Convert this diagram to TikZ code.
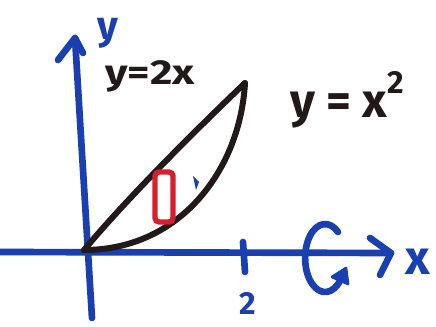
\documentclass[tikz,border=0pt]{standalone}
\usepackage{fontspec}
\setmainfont{Fira Sans}
\usepackage{graphicx}
\usetikzlibrary{arrows.meta}
\definecolor{pen}{HTML}{1A3FB0}
\definecolor{ink}{HTML}{221A1A}
\definecolor{redpen}{HTML}{D81E2C}
\begin{document}
\begin{tikzpicture}[x=0.75pt,y=-0.75pt,
  axis/.style={draw=pen,line width=5pt,line cap=round,line join=round},
  curve/.style={draw=ink,line width=4.5pt,line cap=round},
  lbl/.style={inner sep=0pt,font=\bfseries}]
\useasboundingbox (0,0) rectangle (436,327);
% axes
\coordinate (O) at (84,250);
\coordinate (ytop) at (75,38);
\coordinate (ybot) at (92,318);
\coordinate (yl) at (58,60);
\coordinate (yr) at (83,53);
\coordinate (xl) at (0,252);
\coordinate (xr) at (391,253);
\coordinate (xu) at (370,238);
\coordinate (xd) at (380,275);
\draw[axis] (ybot) -- (ytop);
\draw[axis] (yl) -- (ytop) -- (yr);
\draw[axis] (xl) -- (xr);
\draw[axis] (xu) -- (xr) -- (xd);
% tick
\coordinate (t1) at (243,242);
\coordinate (t2) at (245,272);
\draw[axis] (t1) -- (t2);
% curves
\coordinate (P) at (245,83);
\draw[curve] (O) .. controls (130,195) and (200,126) .. (P);
\draw[curve] (O) .. controls (180,250) and (240,170) .. (P);
% red rectangle
\draw[draw=redpen,line width=4pt,rounded corners=3pt] (155,172) rectangle (173,222);
% blue mark
\fill[pen] (193,176) -- (199,182) -- (196,190) -- cycle;
% rotation arrow
\coordinate (rs) at (338,232);
\coordinate (rtip) at (346,268);
\coordinate (rb1) at (348,284);
\coordinate (rb2) at (332,277);
\draw[axis] (rs) arc[start angle=-50, end angle=-320, x radius=20, y radius=34];
\fill[pen,draw=pen,line width=2pt,line join=round] (rtip) -- (rb1) -- (rb2) -- cycle;
% labels
\node[lbl,text=pen,font=\bfseries\fontsize{30}{30}\selectfont] (ylab) at (108,33) {y};
\node[lbl,text=ink,font=\bfseries\fontsize{26}{26}\selectfont] (l1) at (150,76) {\scalebox{1.25}[1]{y=2x}};
\node[lbl,text=ink,font=\bfseries\fontsize{36}{36}\selectfont] (l2) at (347,100) {y = x\raisebox{0.5em}{\fontsize{24}{24}\selectfont 2}};
\node[lbl,text=pen,font=\bfseries\fontsize{24}{24}\selectfont] (two) at (248,303) {2};
\node[lbl,text=pen,font=\bfseries\fontsize{36}{36}\selectfont] (xlab) at (418,262) {x};
\end{tikzpicture}
\end{document}
